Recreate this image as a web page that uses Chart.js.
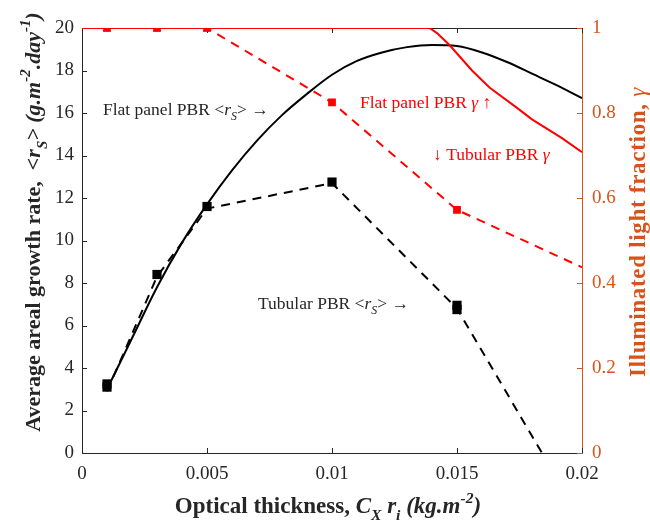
<!DOCTYPE html>
<html>
<head>
<meta charset="utf-8">
<script src="https://cdn.jsdelivr.net/npm/chart.js@4/dist/chart.umd.min.js"></script>
<style>
  html, body { margin: 0; padding: 0; background: #fff; }
  #wrap { width: 650px; height: 530px; position: relative; }
</style>
</head>
<body>
<div id="wrap"><canvas id="pbrChart" width="650" height="530"></canvas></div>
<script>
// optical thickness Cx*ri (kg/m2) for the flat panel model curve
const flatX = [0.001, 0.002, 0.003, 0.004, 0.005, 0.006, 0.007, 0.008, 0.009, 0.010,
               0.011, 0.012, 0.013, 0.014, 0.015, 0.016, 0.017, 0.018, 0.019, 0.020];
// flat panel areal growth rate <rS> (g/m2/day)
const flatRs = [3.0, 5.4, 7.8, 9.9, 11.7, 13.3, 14.7, 15.9, 16.9, 17.8,
                18.45, 18.85, 19.1, 19.2, 19.15, 18.85, 18.4, 17.85, 17.3, 16.7];
// flat panel illuminated light fraction gamma
const flatGammaX = [0, 0.0139, 0.0142, 0.0147, 0.0156, 0.0163, 0.0174, 0.0180, 0.0192, 0.020];
const flatGamma = [1, 1, 0.988, 0.96, 0.90, 0.86, 0.812, 0.785, 0.741, 0.708];

// tubular PBR growth rate, dashed trend and measured squares
const tubeX = [0.001, 0.003, 0.005, 0.010, 0.015, 0.0184];
const tubeRs = [2.9, 8.3, 11.5, 12.7, 6.8, 0];
const tubeMarkX = [0.001, 0.001, 0.003, 0.005, 0.010, 0.015, 0.015];
const tubeMarkRs = [3.25, 3.1, 8.4, 11.6, 12.75, 6.95, 6.75];

// tubular PBR illuminated fraction
const tubeGammaX = [0.001, 0.003, 0.005, 0.010, 0.015, 0.020];
const tubeGamma = [1, 1, 1, 0.825, 0.572, 0.437];
const tubeGammaMarkX = [0.001, 0.003, 0.005, 0.010, 0.015];
const tubeGammaMark = [1, 1, 1, 0.825, 0.572];

const xTicks = [0, 0.005, 0.01, 0.015, 0.02];
const yTicks = [0, 2, 4, 6, 8, 10, 12, 14, 16, 18, 20];
const y1Ticks = [0, 0.2, 0.4, 0.6, 0.8, 1];

const INK = '#262626';
const RED = '#ff0000';
const ORANGE = '#d95319';
const SERIF = '"Liberation Serif", "Times New Roman", serif';

const pts = (xs, ys) => xs.map((x, i) => ({ x: x, y: ys[i] }));

// draws a run of styled pieces: [text, fontStyle, kind] with kind '', 'sub' or 'sup'
function richWidth(ctx, parts, size) {
  let w = 0;
  parts.forEach(p => {
    const s = p[2] ? size * 0.68 : size;
    ctx.font = p[1] + ' ' + s + 'px ' + SERIF;
    w += ctx.measureText(p[0]).width;
  });
  return w;
}

function drawRich(ctx, parts, x, y, size, color, align, angle, spacing) {
  ctx.save();
  ctx.translate(x, y);
  if (angle) ctx.rotate(angle);
  ctx.letterSpacing = (spacing || 0) + 'px';
  ctx.fillStyle = color;
  ctx.textBaseline = 'alphabetic';
  ctx.textAlign = 'left';
  let cx = align === 'center' ? -richWidth(ctx, parts, size) / 2 : 0;
  parts.forEach(p => {
    const s = p[2] ? size * 0.68 : size;
    const dy = p[2] === 'sub' ? size * 0.3 : (p[2] === 'sup' ? -size * 0.45 : 0);
    ctx.font = p[1] + ' ' + s + 'px ' + SERIF;
    ctx.fillText(p[0], cx, dy);
    cx += ctx.measureText(p[0]).width;
  });
  ctx.restore();
}

const xTitle = [
  ['Optical thickness, ', 'bold'], ['C', 'italic bold'], ['X', 'italic bold', 'sub'],
  [' r', 'italic bold'], ['i', 'italic bold', 'sub'], [' (kg.m', 'italic bold'],
  ['-2', 'italic bold', 'sup'], [')', 'italic bold']
];
const yTitle = [
  ['Average areal growth rate,  ', 'bold'], ['<r', 'italic bold'], ['S', 'italic bold', 'sub'],
  ['> (g.m', 'italic bold'], ['-2', 'italic bold', 'sup'], ['.day', 'italic bold'],
  ['-1', 'italic bold', 'sup'], [')', 'italic bold']
];
const y1Title = [['Illuminated light fraction, ', 'bold'], ['\u03b3', 'italic']];

// text notes placed in data coordinates: [parts, x, y, axis, colour]
const notes = [
  [[['Flat panel PBR <', ''], ['r', 'italic'], ['S', 'italic', 'sub'], ['> \u2192', '']], 0.00084, 15.9, 'y', INK],
  [[['Flat panel PBR ', ''], ['\u03b3', 'italic'], [' \u2191', '']], 0.01112, 0.812, 'y1', RED],
  [[['\u2193 Tubular PBR ', ''], ['\u03b3', 'italic']], 0.01404, 0.689, 'y1', RED],
  [[['Tubular PBR <', ''], ['r', 'italic'], ['S', 'italic', 'sub'], ['> \u2192', '']], 0.00704, 6.8, 'y', INK]
];

const frame = {
  id: 'frame',
  beforeDatasetsDraw(chart) {
    const { ctx, chartArea: a, scales } = chart;
    ctx.save();
    ctx.lineWidth = 1;
    ctx.strokeStyle = INK;
    // top edge of the box
    ctx.beginPath();
    ctx.moveTo(a.left, a.top + 0.5);
    ctx.lineTo(a.right, a.top + 0.5);
    ctx.stroke();
    // inward tick marks, bottom and top
    xTicks.forEach(v => {
      const px = Math.round(scales.x.getPixelForValue(v)) + 0.5;
      ctx.beginPath();
      ctx.moveTo(px, a.bottom); ctx.lineTo(px, a.bottom - 5);
      ctx.moveTo(px, a.top); ctx.lineTo(px, a.top + 5);
      ctx.stroke();
    });
    yTicks.forEach(v => {
      const py = Math.round(scales.y.getPixelForValue(v)) + 0.5;
      ctx.beginPath();
      ctx.moveTo(a.left, py); ctx.lineTo(a.left + 5, py);
      ctx.stroke();
    });
    ctx.strokeStyle = ORANGE;
    y1Ticks.forEach(v => {
      const py = Math.round(scales.y1.getPixelForValue(v)) + 0.5;
      ctx.beginPath();
      ctx.moveTo(a.right, py); ctx.lineTo(a.right - 5, py);
      ctx.stroke();
    });
    ctx.restore();
  },
  afterDraw(chart) {
    const { ctx, chartArea: a, scales } = chart;
    drawRich(ctx, xTitle, (a.left + a.right) / 2 - 4, 513, 23, INK, 'center');
    drawRich(ctx, yTitle, 40, 222, 22, INK, 'center', -Math.PI / 2);
    drawRich(ctx, y1Title, 645, 232, 23, ORANGE, 'center', -Math.PI / 2, 0.7);
    notes.forEach(n => {
      const px = scales.x.getPixelForValue(n[1]);
      const py = scales[n[3]].getPixelForValue(n[2]);
      drawRich(ctx, n[0], px, py, 17.5, n[4], 'left');
    });
  }
};

new Chart(document.getElementById('pbrChart'), {
  type: 'line',
  data: {
    datasets: [
      {
        data: pts(flatGammaX, flatGamma), yAxisID: 'y1',
        borderColor: RED, borderWidth: 2, pointRadius: 0
      },
      {
        data: pts(tubeGammaMarkX, tubeGammaMark), yAxisID: 'y1', showLine: false,
        pointStyle: 'rect', pointRadius: 5.5, backgroundColor: RED, borderColor: RED, borderWidth: 0
      },
      {
        data: pts(tubeGammaX, tubeGamma), yAxisID: 'y1',
        borderColor: RED, borderWidth: 2, borderDash: [9, 7], pointRadius: 0
      },
      {
        data: pts(flatX, flatRs), yAxisID: 'y',
        borderColor: '#000', borderWidth: 2, pointRadius: 0, cubicInterpolationMode: 'monotone'
      },
      {
        data: pts(tubeMarkX, tubeMarkRs), yAxisID: 'y', showLine: false,
        pointStyle: 'rect', pointRadius: 6.5, backgroundColor: '#000', borderColor: '#000', borderWidth: 0
      },
      {
        data: pts(tubeX, tubeRs), yAxisID: 'y',
        borderColor: '#000', borderWidth: 2, borderDash: [9, 7], pointRadius: 0
      }
    ]
  },
  options: {
    responsive: false,
    animation: false,
    devicePixelRatio: 1,
    layout: { padding: { top: 28, left: 0, right: 0, bottom: 0 } },
    plugins: { legend: { display: false }, tooltip: { enabled: false } },
    scales: {
      x: {
        type: 'linear', min: 0, max: 0.02,
        afterFit: s => { s.height = 77; },
        afterBuildTicks: s => { s.ticks = xTicks.map(v => ({ value: v })); },
        grid: { display: false, drawTicks: false },
        border: { display: true, color: INK, width: 1 },
        ticks: {
          padding: 10, color: INK, maxRotation: 0,
          font: { family: SERIF, size: 19 },
          callback: v => String(v)
        }
      },
      y: {
        position: 'left', min: 0, max: 20,
        afterFit: s => { s.width = 82; },
        afterBuildTicks: s => { s.ticks = yTicks.map(v => ({ value: v })); },
        grid: { display: false, drawTicks: false },
        border: { display: true, color: INK, width: 1 },
        ticks: { padding: 8, color: INK, font: { family: SERIF, size: 19 } }
      },
      y1: {
        position: 'right', min: 0, max: 1,
        afterFit: s => { s.width = 68; },
        afterBuildTicks: s => { s.ticks = y1Ticks.map(v => ({ value: v })); },
        grid: { display: false, drawTicks: false },
        border: { display: true, color: ORANGE, width: 1 },
        ticks: { padding: 10, color: ORANGE, font: { family: SERIF, size: 19 }, callback: v => String(v) }
      }
    }
  },
  plugins: [frame]
});
</script>
</body>
</html>
